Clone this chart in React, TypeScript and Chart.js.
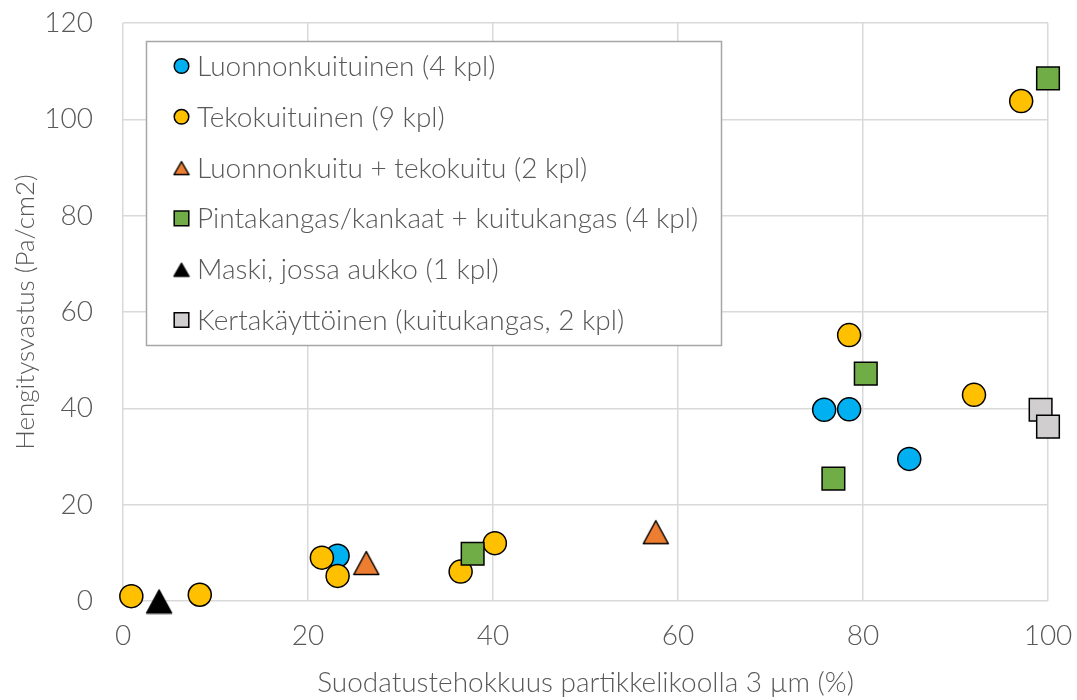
import React, { useEffect, useRef } from "react";
import { Chart, registerables } from "chart.js";

Chart.register(...registerables);

// ---- Data ----
const seriesNames = [
  "Luonnonkuituinen (4 kpl)",
  "Tekokuituinen (9 kpl)",
  "Luonnonkuitu + tekokuitu (2 kpl)",
  "Pintakangas/kankaat + kuitukangas (4 kpl)",
  "Maski, jossa aukko (1 kpl)",
  "Kertakäyttöinen (kuitukangas, 2 kpl)",
];

const luonnonX = [23.2, 75.8, 78.5, 85.0];
const luonnonY = [9.4, 39.7, 39.8, 29.5];

const tekoX = [0.9, 8.3, 21.5, 23.2, 36.5, 40.2, 78.5, 92.0, 97.1];
const tekoY = [1.0, 1.3, 9.0, 5.2, 6.1, 12.0, 55.2, 42.8, 103.8];

const sekaX = [26.3, 57.6];
const sekaY = [8.0, 14.4];

const pintaX = [37.8, 76.8, 80.3, 100.0];
const pintaY = [9.8, 25.4, 47.2, 108.5];

const maskiX = [3.9];
const maskiY = [0.0];

const kertaX = [99.2, 100.0];
const kertaY = [39.7, 36.2];

const xTicks = [0, 20, 40, 60, 80, 100];
const yTicks = [0, 20, 40, 60, 80, 100, 120];

const xTitle = "Suodatustehokkuus partikkelikoolla 3 µm (%)";
const yTitle = "Hengitysvastus (Pa/cm2)";

// ---- Styles ----
const colors = ["#00b0f0", "#ffc000", "#ed7d31", "#70ad47", "#000000", "#d0cece"];
const shapes = ["circle", "circle", "triangle", "rect", "triangle", "rect"];
const FONT = "Lato, 'Open Sans', sans-serif";
const TEXT = "#595959";
const GRID = "#d9d9d9";
const FS = 28;

function zip(xs: number[], ys: number[]) {
  return xs.map((x, i) => ({ x, y: ys[i] }));
}

function makeTriangle(w: number, h: number, fill: string) {
  const c = document.createElement("canvas");
  c.width = w;
  c.height = h;
  const ctx = c.getContext("2d")!;
  const p = 1.5;
  ctx.beginPath();
  ctx.moveTo(w / 2, p + 1);
  ctx.lineTo(w - p, h - p);
  ctx.lineTo(p, h - p);
  ctx.closePath();
  ctx.fillStyle = fill;
  ctx.fill();
  ctx.lineWidth = 1.5;
  ctx.strokeStyle = "#000";
  ctx.lineJoin = "round";
  ctx.stroke();
  return c;
}

const legendPlugin = {
  id: "boxLegend",
  afterDraw(chart: any) {
    const ctx = chart.ctx as CanvasRenderingContext2D;
    const bx = 146.5, by = 41.5, bw = 575, bh = 304;
    ctx.save();
    ctx.fillStyle = "#ffffff";
    ctx.fillRect(bx, by, bw, bh);
    ctx.strokeStyle = "#a6a6a6";
    ctx.lineWidth = 1.5;
    ctx.strokeRect(bx, by, bw, bh);
    const rowY0 = 66;
    const rowStep = 50.8;
    const mx = 181.5;
    seriesNames.forEach((name, i) => {
      const y = rowY0 + i * rowStep;
      const shape = shapes[i];
      ctx.lineWidth = 1.5;
      ctx.strokeStyle = "#000";
      ctx.fillStyle = colors[i];
      if (shape === "circle") {
        ctx.beginPath();
        ctx.arc(mx, y, 7.3, 0, Math.PI * 2);
        ctx.fill();
        ctx.stroke();
      } else if (shape === "rect") {
        ctx.beginPath();
        ctx.rect(mx - 7.3, y - 7.3, 14.6, 14.6);
        ctx.fill();
        ctx.stroke();
      } else {
        const img = makeTriangle(18, 17, colors[i]);
        ctx.drawImage(img, mx - 9, y - 8.5);
      }
      ctx.fillStyle = TEXT;
      ctx.font = `300 ${FS}px ${FONT}`;
      ctx.textBaseline = "middle";
      ctx.textAlign = "left";
      ctx.fillText(name, 197, y + 1);
    });
    ctx.restore();
  },
};

export default function App() {
  const ref = useRef<HTMLCanvasElement | null>(null);

  useEffect(() => {
    document.body.style.margin = "0";
    if (!ref.current) return;
    const xs = [luonnonX, tekoX, sekaX, pintaX, maskiX, kertaX];
    const ys = [luonnonY, tekoY, sekaY, pintaY, maskiY, kertaY];
    const datasets = seriesNames.map((name, i) => {
      const shape = shapes[i];
      const style: any = shape === "triangle" ? makeTriangle(28, 27, colors[i]) : shape;
      const r = shape === "rect" ? 16 : shape === "circle" ? 11.5 : 13;
      return {
        label: name,
        data: zip(xs[i], ys[i]),
        pointStyle: style,
        pointRadius: r,
        pointHoverRadius: r,
        backgroundColor: colors[i],
        borderColor: "#000000",
        borderWidth: 1.5,
        pointBorderWidth: 1.5,
        clip: false as any,
        order: 10 - i,
      };
    });

    const chart = new Chart(ref.current, {
      type: "scatter",
      data: { datasets },
      options: {
        animation: false,
        responsive: false,
        events: [],
        layout: { padding: { left: 0, right: 29, top: 23, bottom: 0 } },
        plugins: {
          legend: { display: false },
          tooltip: { enabled: false },
        },
        scales: {
          x: {
            type: "linear",
            min: 0,
            max: 100,
            afterBuildTicks: (s: any) => {
              s.ticks = xTicks.map((v) => ({ value: v }));
            },
            afterFit: (s: any) => {
              s.height = 99;
              s.paddingLeft = 0;
              s.paddingRight = 0;
            },
            grid: { color: GRID, lineWidth: 1.5, drawTicks: false },
            border: { display: false },
            ticks: {
              color: TEXT,
              font: { family: FONT, size: FS, weight: "300" as any },
              padding: 18,
            },
            title: {
              display: true,
              text: xTitle,
              color: TEXT,
              font: { family: FONT, size: FS, weight: "300" as any },
              padding: { top: 0, bottom: 0 },
            },
          },
          y: {
            type: "linear",
            min: 0,
            max: 120,
            afterBuildTicks: (s: any) => {
              s.ticks = yTicks.map((v) => ({ value: v }));
            },
            afterFit: (s: any) => {
              s.width = 123;
              s.paddingTop = 0;
              s.paddingBottom = 0;
            },
            grid: { color: GRID, lineWidth: 1.5, drawTicks: false },
            border: { display: false },
            ticks: {
              color: TEXT,
              font: { family: FONT, size: FS, weight: "300" as any },
              padding: 30,
            },
            title: {
              display: true,
              text: yTitle,
              color: TEXT,
              font: { family: FONT, size: 26, weight: "300" as any },
              padding: { top: 10, bottom: 0 },
            },
          },
        },
      },
      plugins: [legendPlugin],
    });
    return () => chart.destroy();
  }, []);

  return (
    <div style={{ width: 1077, height: 700 }}>
      <canvas ref={ref} width={1077} height={700} style={{ display: "block" }} />
    </div>
  );
}
